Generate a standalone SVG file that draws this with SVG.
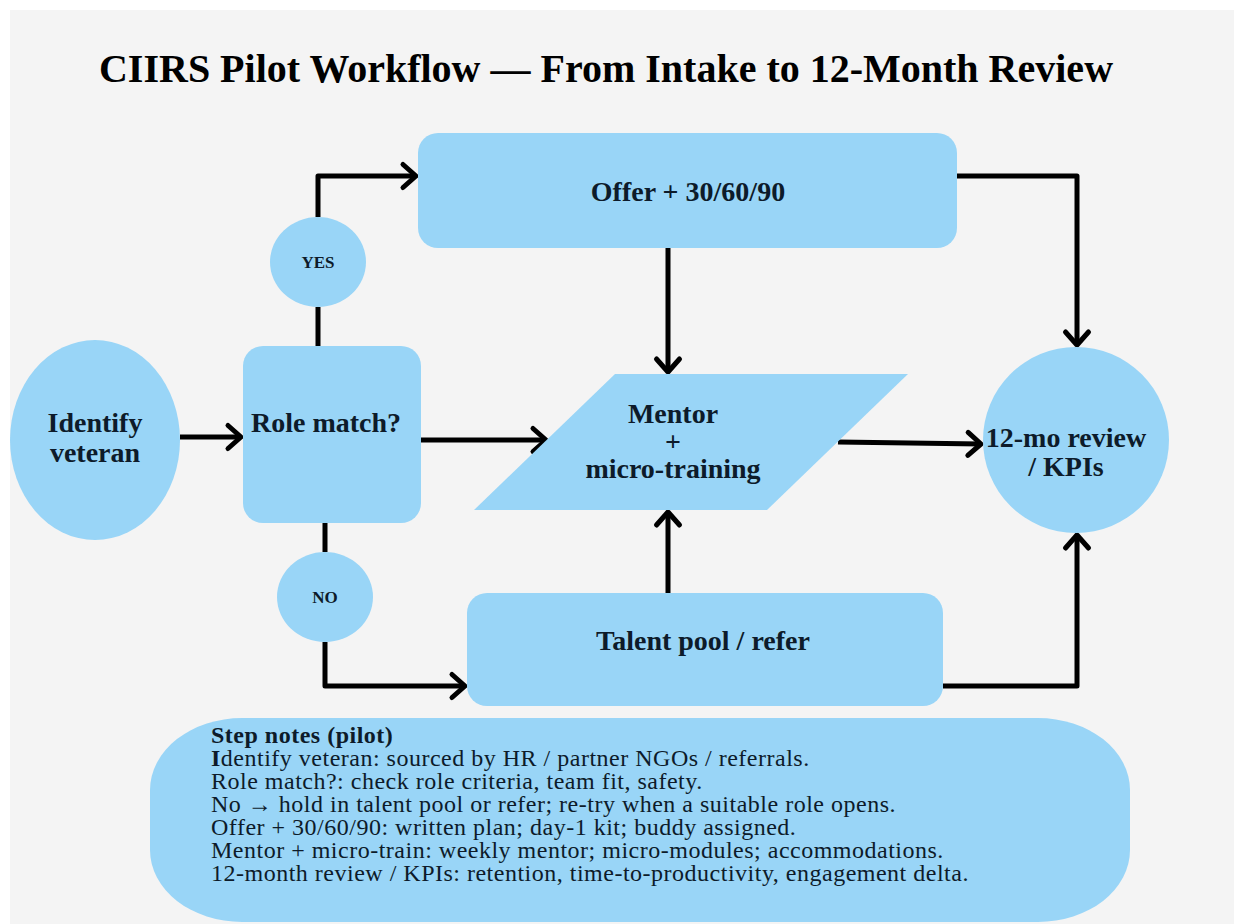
<svg xmlns="http://www.w3.org/2000/svg" width="1242" height="924" viewBox="0 0 1242 924">
  <defs>
    <style>
      .node { fill: #99d5f7; }
      .label { font-family: "Liberation Serif", "Times New Roman", serif; font-weight: bold; fill: #0d1b2a; text-anchor: middle; }
      .big { font-size: 28px; }
      .small { font-size: 17px; }
      .title { font-family: "Liberation Serif", "Times New Roman", serif; font-weight: bold; font-size: 40px; fill: #000; text-anchor: middle; }
      .notes { font-family: "Liberation Serif", "Times New Roman", serif; font-size: 24px; letter-spacing: 0.5px; fill: #0d1b2a; }
      .wire { fill: none; stroke: #000; stroke-width: 5; stroke-linejoin: round; }
      .arrow { marker-end: url(#chev); }
    </style>
    <marker id="chev" markerUnits="userSpaceOnUse" markerWidth="30" markerHeight="34" refX="16" refY="14" orient="auto" overflow="visible">
      <path d="M3,2.5 L16,14 L3,25.5" fill="none" stroke="#000" stroke-width="5" stroke-linecap="round" stroke-linejoin="round"/>
    </marker>
  </defs>

  <!-- page -->
  <rect x="0" y="0" width="1242" height="924" fill="#ffffff"/>
  <rect x="10" y="10" width="1224" height="914" fill="#f4f4f4"/>

  <text class="title" x="606" y="82">CIIRS Pilot Workflow — From Intake to 12-Month Review</text>

  <!-- connectors -->
  <g id="connectors">
    <path class="wire arrow" d="M180,437 L241,437"/>
    <path class="wire" d="M318,346 L318,307"/>
    <path class="wire arrow" d="M318,217 L318,176 L416,176"/>
    <path class="wire" d="M325,523 L325,552"/>
    <path class="wire arrow" d="M325,642 L325,686 L465,686"/>
    <path class="wire arrow" d="M421,440 L546,440"/>
    <path class="wire arrow" d="M668,248 L668,372"/>
    <path class="wire arrow" d="M668,593 L668,512"/>
    <path class="wire arrow" d="M957,176 L1077,176 L1077,345"/>
    <path class="wire arrow" d="M838,442 L981,444"/>
    <path class="wire arrow" d="M943,686 L1077,686 L1077,535"/>
  </g>

  <g id="identify">
    <ellipse class="node" cx="95" cy="440" rx="85" ry="100"/>
    <text class="label big" x="95" y="432">Identify</text>
    <text class="label big" x="95" y="462">veteran</text>
  </g>

  <g id="role-match">
    <rect class="node" x="243" y="346" width="178" height="177" rx="20"/>
    <text class="label big" x="326" y="432">Role match?</text>
  </g>

  <g id="yes">
    <ellipse class="node" cx="318" cy="262" rx="48" ry="45"/>
    <text class="label small" x="318" y="268">YES</text>
  </g>

  <g id="no">
    <ellipse class="node" cx="325" cy="597" rx="48" ry="45"/>
    <text class="label small" x="325" y="603">NO</text>
  </g>

  <g id="offer">
    <rect class="node" x="418" y="133" width="539" height="115" rx="20"/>
    <text class="label big" x="688" y="201">Offer + 30/60/90</text>
  </g>

  <g id="mentor">
    <polygon class="node" points="615,374 908,374 767,510 474,510"/>
    <text class="label big" x="673" y="423">Mentor</text>
    <text class="label big" x="673" y="451">+</text>
    <text class="label big" x="673" y="478">micro-training</text>
  </g>

  <g id="talent-pool">
    <rect class="node" x="467" y="593" width="476" height="113" rx="20"/>
    <text class="label big" x="703" y="650">Talent pool / refer</text>
  </g>

  <g id="review">
    <ellipse class="node" cx="1076" cy="440" rx="93" ry="93"/>
    <text class="label big" x="1066" y="447">12-mo review</text>
    <text class="label big" x="1066" y="476">/ KPIs</text>
  </g>

  <g id="notes">
    <rect class="node" x="150" y="718" width="980" height="204" rx="92" ry="72"/>
    <text class="notes" x="211" y="743"><tspan font-weight="bold">Step notes (pilot)</tspan></text>
    <text class="notes" x="211" y="766"><tspan font-weight="bold">I</tspan>dentify veteran: sourced by HR / partner NGOs / referrals.</text>
    <text class="notes" x="211" y="789">Role match?: check role criteria, team fit, safety.</text>
    <text class="notes" x="211" y="812">No → hold in talent pool or refer; re-try when a suitable role opens.</text>
    <text class="notes" x="211" y="835">Offer + 30/60/90: written plan; day-1 kit; buddy assigned.</text>
    <text class="notes" x="211" y="858">Mentor + micro-train: weekly mentor; micro-modules; accommodations.</text>
    <text class="notes" x="211" y="881">12-month review / KPIs: retention, time-to-productivity, engagement delta.</text>
  </g>
</svg>
